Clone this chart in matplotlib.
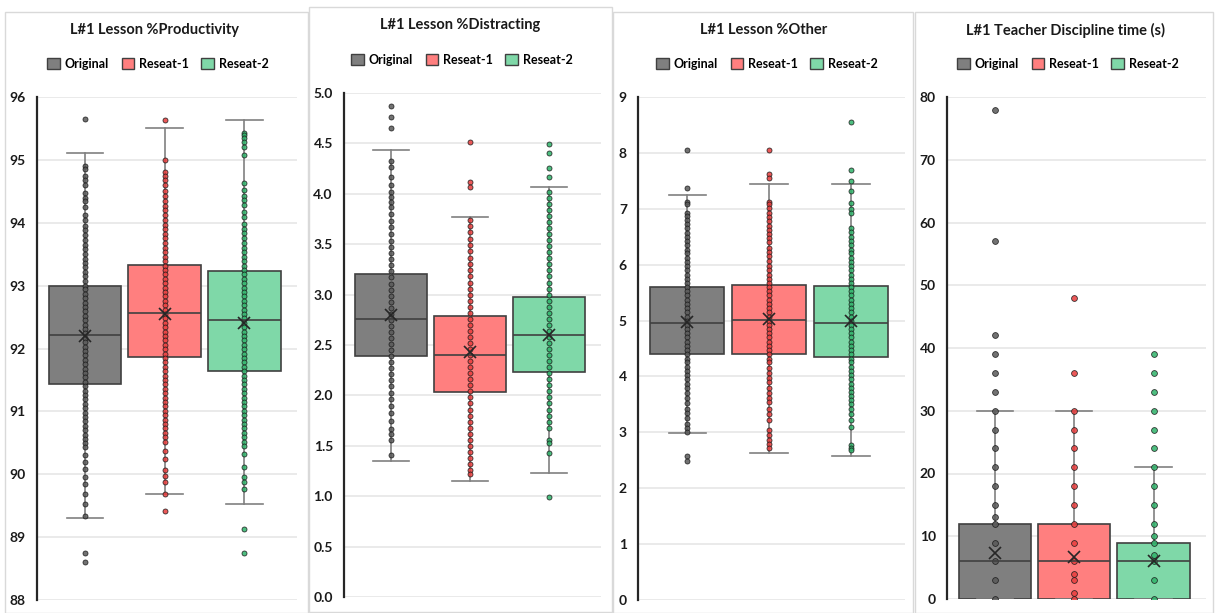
import matplotlib
matplotlib.use("Agg")
import matplotlib.pyplot as plt
from matplotlib.patches import Patch, Rectangle

plt.rcParams['font.family'] = ['Lato', 'DejaVu Sans']
plt.rcParams['font.weight'] = 'bold'

groups = ['Original', 'Reseat-1', 'Reseat-2']
fills = ['#7f7f7f', '#ff7f7f', '#7fd8a8']
dot_colors = ['#595959', '#e83c3c', '#2fb36a']

titles = ['L#1 Lesson %Productivity', 'L#1 Lesson %Distracting',
          'L#1 Lesson %Other', 'L#1 Teacher Discipline time (s)']

# ---- panel 1: productivity
prod_q1 = [91.43, 91.86, 91.64]
prod_med = [92.22, 92.56, 92.45]
prod_q3 = [93.0, 93.33, 93.24]
prod_lo = [89.3, 89.68, 89.53]
prod_hi = [95.11, 95.5, 95.63]
prod_mean = [92.2, 92.55, 92.4]
prod_orig = [95.65, 94.9, 94.85, 94.75, 94.68, 94.6, 94.48, 94.4, 94.35, 94.25, 94.12, 94.05,
             93.95, 93.88, 93.8, 93.72, 93.65, 93.58, 93.5, 93.43, 93.36, 93.29, 93.22, 93.15,
             93.08, 93.0, 92.94, 92.87, 92.8, 92.73, 92.66, 92.59, 92.52, 92.45, 92.38, 92.31,
             92.24, 92.17, 92.1, 92.03, 91.96, 91.89, 91.82, 91.75, 91.68, 91.61, 91.54, 91.47,
             91.4, 91.33, 91.26, 91.19, 91.12, 91.05, 90.98, 90.91, 90.84, 90.77, 90.7, 90.63,
             90.56, 90.5, 90.43, 90.3, 90.19, 90.08, 89.95, 89.84, 89.69, 89.52, 89.33, 88.75, 88.6]
prod_r1 = [95.63, 95.0, 94.8, 94.75, 94.68, 94.6, 94.5, 94.42, 94.35, 94.27, 94.2, 94.12, 94.05,
           93.97, 93.9, 93.82, 93.75, 93.68, 93.6, 93.53, 93.46, 93.39, 93.32, 93.25, 93.18,
           93.11, 93.04, 92.97, 92.9, 92.83, 92.76, 92.69, 92.62, 92.55, 92.48, 92.41, 92.34,
           92.27, 92.2, 92.13, 92.06, 91.99, 91.92, 91.85, 91.78, 91.71, 91.64, 91.57, 91.5,
           91.43, 91.36, 91.29, 91.22, 91.15, 91.08, 91.01, 90.94, 90.87, 90.8, 90.73, 90.66,
           90.59, 90.52, 90.37, 90.24, 90.07, 89.97, 89.87, 89.69, 89.42]
prod_r2 = [95.43, 95.39, 95.35, 95.28, 95.2, 95.08, 94.63, 94.52, 94.43, 94.36, 94.28, 94.17,
           94.09, 93.98, 93.9, 93.83, 93.75, 93.68, 93.6, 93.53, 93.46, 93.39, 93.32, 93.25,
           93.18, 93.11, 93.04, 92.97, 92.9, 92.83, 92.76, 92.69, 92.62, 92.55, 92.48, 92.41,
           92.34, 92.27, 92.2, 92.13, 92.06, 91.99, 91.92, 91.85, 91.78, 91.71, 91.64, 91.57,
           91.5, 91.43, 91.36, 91.29, 91.22, 91.15, 91.08, 91.01, 90.94, 90.87, 90.8, 90.73,
           90.66, 90.59, 90.52, 90.45, 90.32, 90.11, 89.95, 89.87, 89.76, 89.13, 88.75]

# ---- panel 2: distracting
dist_q1 = [2.39, 2.03, 2.23]
dist_med = [2.76, 2.40, 2.60]
dist_q3 = [3.2, 2.79, 2.98]
dist_lo = [1.35, 1.15, 1.23]
dist_hi = [4.43, 3.77, 4.07]
dist_mean = [2.8, 2.43, 2.6]
dist_orig = [4.87, 4.76, 4.65, 4.33, 4.27, 4.17, 4.09, 4.02, 3.97, 3.92, 3.87, 3.8, 3.73, 3.67,
             3.6, 3.53, 3.47, 3.41, 3.35, 3.29, 3.23, 3.17, 3.11, 3.05, 2.99, 2.93, 2.87, 2.81,
             2.75, 2.69, 2.63, 2.57, 2.51, 2.45, 2.39, 2.33, 2.27, 2.21, 2.15, 2.09, 2.02, 1.96,
             1.89, 1.83, 1.75, 1.67, 1.62, 1.56, 1.41]
dist_r1 = [4.51, 4.12, 4.07, 3.74, 3.68, 3.62, 3.55, 3.49, 3.43, 3.36, 3.3, 3.24, 3.18, 3.12,
           3.06, 3.0, 2.94, 2.88, 2.82, 2.76, 2.7, 2.64, 2.58, 2.52, 2.46, 2.4, 2.34, 2.28, 2.22,
           2.16, 2.1, 2.04, 1.98, 1.92, 1.86, 1.8, 1.74, 1.68, 1.62, 1.56, 1.5, 1.44, 1.38, 1.32,
           1.26, 1.22]
dist_r2 = [4.49, 4.40, 4.26, 4.17, 4.02, 3.96, 3.9, 3.84, 3.78, 3.72, 3.66, 3.6, 3.54, 3.48,
           3.42, 3.36, 3.3, 3.24, 3.18, 3.12, 3.06, 3.0, 2.94, 2.88, 2.82, 2.76, 2.7, 2.64, 2.58,
           2.52, 2.46, 2.4, 2.34, 2.28, 2.22, 2.16, 2.1, 2.04, 1.98, 1.92, 1.86, 1.8, 1.74, 1.68,
           1.56, 1.53, 1.43, 0.99]

# ---- panel 3: other
oth_q1 = [4.41, 4.4, 4.34]
oth_med = [4.96, 5.01, 4.95]
oth_q3 = [5.6, 5.63, 5.62]
oth_lo = [2.98, 2.63, 2.57]
oth_hi = [7.24, 7.44, 7.44]
oth_mean = [4.97, 5.02, 5.0]
oth_orig = [8.06, 7.38, 7.13, 7.08, 6.93, 6.87, 6.8, 6.72, 6.65, 6.57, 6.5, 6.42, 6.35, 6.27,
            6.2, 6.12, 6.05, 5.97, 5.9, 5.82, 5.75, 5.67, 5.6, 5.52, 5.45, 5.37, 5.3, 5.22, 5.15,
            5.07, 5.0, 4.92, 4.85, 4.77, 4.7, 4.62, 4.55, 4.47, 4.4, 4.32, 4.25, 4.17, 4.1, 4.02,
            3.95, 3.87, 3.8, 3.7, 3.62, 3.52, 3.42, 3.35, 3.25, 3.15, 3.08, 3.0, 2.58, 2.48]
oth_r1 = [8.05, 7.63, 7.55, 7.13, 7.08, 7.02, 6.93, 6.85, 6.78, 6.7, 6.62, 6.55, 6.47, 6.4, 6.3,
          6.22, 6.15, 6.07, 5.97, 5.9, 5.82, 5.75, 5.67, 5.6, 5.52, 5.45, 5.37, 5.3, 5.22, 5.15,
          5.07, 5.0, 4.92, 4.85, 4.77, 4.7, 4.62, 4.55, 4.47, 4.4, 4.32, 4.25, 4.15, 4.07, 3.97,
          3.9, 3.8, 3.7, 3.62, 3.55, 3.42, 3.32, 3.22, 3.05, 2.95, 2.87, 2.8, 2.72]
oth_r2 = [8.55, 7.69, 7.5, 7.32, 7.1, 7.0, 6.92, 6.65, 6.58, 6.5, 6.42, 6.35, 6.27, 6.2, 6.12,
          6.05, 5.97, 5.9, 5.82, 5.75, 5.67, 5.6, 5.52, 5.45, 5.37, 5.3, 5.22, 5.15, 5.07, 5.0,
          4.92, 4.85, 4.77, 4.7, 4.62, 4.55, 4.47, 4.4, 4.32, 4.25, 4.17, 4.1, 4.02, 3.95, 3.87,
          3.8, 3.72, 3.65, 3.57, 3.5, 3.42, 3.32, 3.22, 3.1, 2.78, 2.72, 2.68]

# ---- panel 4: teacher discipline time
disc_q1 = [0, 0, 0]
disc_med = [6, 6, 6]
disc_q3 = [12, 12, 9]
disc_lo = [0, 0, 0]
disc_hi = [30, 30, 21]
disc_mean = [7.4, 6.7, 6.1]
disc_orig = [0, 3, 6, 9, 12, 13, 15, 18, 21, 24, 27, 30, 33, 36, 39, 42, 57, 78]
disc_r1 = [0, 1, 3, 4, 6, 9, 12, 15, 18, 21, 24, 27, 30, 36, 48]
disc_r2 = [0, 3, 6, 7, 9, 10, 12, 15, 18, 21, 24, 27, 30, 33, 36, 39]

panels = [
    (prod_q1, prod_med, prod_q3, prod_lo, prod_hi, prod_mean, [prod_orig, prod_r1, prod_r2], (88, 96), 1, '%d'),
    (dist_q1, dist_med, dist_q3, dist_lo, dist_hi, dist_mean, [dist_orig, dist_r1, dist_r2], (0, 5), 0.5, '%.1f'),
    (oth_q1, oth_med, oth_q3, oth_lo, oth_hi, oth_mean, [oth_orig, oth_r1, oth_r2], (0, 9), 1, '%d'),
    (disc_q1, disc_med, disc_q3, disc_lo, disc_hi, disc_mean, [disc_orig, disc_r1, disc_r2], (0, 80), 10, '%d'),
]

W, H = 1215, 613
fig = plt.figure(figsize=(W / 100, H / 100), dpi=100)

# panel frames (pixel boxes), axes boxes, title/legend centres
frames = [(5, 12, 308, 613), (309, 7, 612, 612), (613, 12, 913, 613), (915, 12, 1213, 613)]
axboxes = [(37, 97, 297, 600), (344, 93, 601, 597), (638, 97, 905, 600), (947, 97, 1206, 599)]
title_pos = [(155, 30), (460, 25), (764, 30), (1066, 30)]
legend_pos = [(158, 64), (462, 60), (767, 64), (1068, 64)]
dot_size = [3.6, 3.6, 3.6, 4.2]

for i, (q1, med, q3, lo, hi, mean, dots, ylim, step, fmt) in enumerate(panels):
    x0, y0, x1, y1 = frames[i]
    fig.patches.append(Rectangle((x0 / W, 1 - y1 / H), (x1 - x0) / W, (y1 - y0) / H,
                                 transform=fig.transFigure, fill=False,
                                 edgecolor='#d9d9d9', linewidth=1))
    l, t, r, b = axboxes[i]
    ax = fig.add_axes([l / W, 1 - b / H, (r - l) / W, (b - t) / H])

    stats = []
    for k in range(3):
        stats.append(dict(q1=q1[k], med=med[k], q3=q3[k], whislo=lo[k], whishi=hi[k],
                          mean=mean[k], fliers=[]))
    bp = ax.bxp(stats, positions=[0, 1, 2], widths=0.91, patch_artist=True, showmeans=True,
                showfliers=False,
                boxprops=dict(linewidth=1.2),
                whiskerprops=dict(color='#808080', linewidth=1.2),
                capprops=dict(color='#808080', linewidth=1.2),
                medianprops=dict(color='#404040', linewidth=1.2),
                meanprops=dict(marker='x', markeredgecolor='#262626', markersize=8,
                               markeredgewidth=1.2))
    for k, box in enumerate(bp['boxes']):
        box.set_facecolor(fills[k])
        box.set_edgecolor('#404040')
        box.set_zorder(1)
    for k in range(3):
        ax.plot([k] * len(dots[k]), dots[k], 'o', ms=dot_size[i], mfc=dot_colors[k],
                mec='#1a1a1a', mew=0.6, alpha=0.85, zorder=3)
    for m in bp['means']:
        m.set_zorder(4)
    for m in bp['medians']:
        m.set_zorder(4)

    ax.set_xlim(-0.6, 2.66)
    ax.set_ylim(*ylim)
    ticks = []
    v = ylim[0]
    while v <= ylim[1] + 1e-9:
        ticks.append(v)
        v += step
    ax.set_yticks(ticks)
    ax.set_yticklabels([fmt % t for t in ticks], fontsize=10, fontweight='bold', color='#1a1a1a')
    ax.set_xticks([])
    ax.tick_params(axis='y', length=0, pad=8)
    ax.yaxis.grid(True, color='#e6e6e6', linewidth=1.2)
    ax.set_axisbelow(True)
    for s in ['top', 'right', 'bottom']:
        ax.spines[s].set_visible(False)
    ax.spines['left'].set_color('#262626')
    ax.spines['left'].set_linewidth(1.6)

    fig.text(title_pos[i][0] / W, 1 - title_pos[i][1] / H, titles[i], ha='center', va='center',
             fontsize=10.5, fontweight='bold', color='#1a1a1a')
    handles = [Patch(facecolor=fills[k], edgecolor='#404040', label=groups[k]) for k in range(3)]
    ax.legend(handles=handles, loc='center', ncol=3, frameon=False,
              bbox_to_anchor=(legend_pos[i][0] / W, 1 - legend_pos[i][1] / H),
              bbox_transform=fig.transFigure, handlelength=1.0, handleheight=1.0,
              handletextpad=0.4, columnspacing=1.0, prop=dict(size=9, weight='bold'))

fig.savefig('out.png', dpi=100)
